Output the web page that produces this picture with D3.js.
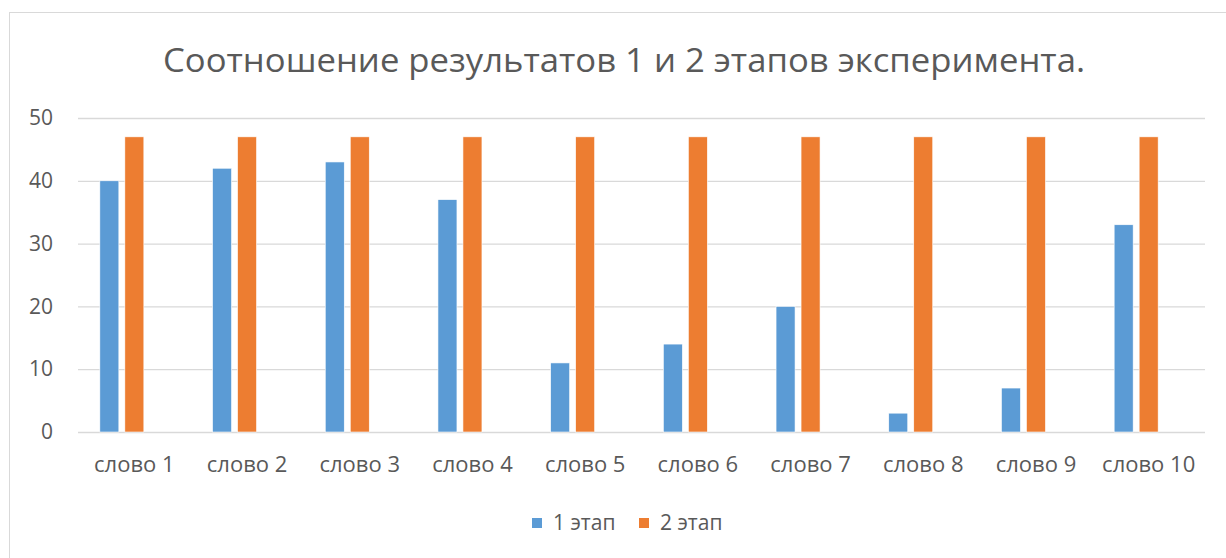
<!DOCTYPE html>
<html>
<head>
<meta charset="utf-8">
<script src="https://cdn.jsdelivr.net/npm/d3@7"></script>
<style>
  body { margin: 0; background: #fff; }
  svg { display: block; }
  svg text { font-family: "Open Sans", sans-serif; }
</style>
</head>
<body>
<div id="chart"></div>
<script>
// data
const categories = ["слово 1", "слово 2", "слово 3", "слово 4", "слово 5",
                    "слово 6", "слово 7", "слово 8", "слово 9", "слово 10"];
const seriesNames = ["1 этап", "2 этап"];
const stage1 = [40, 42, 43, 37, 11, 14, 20, 3, 7, 33];
const stage2 = [47, 47, 47, 47, 47, 47, 47, 47, 47, 47];
const yTicks = [0, 10, 20, 30, 40, 50];
const colors = ["#5B9BD5", "#ED7D31"];
const title = "Соотношение результатов 1 и 2 этапов эксперимента.";

const W = 1226, H = 558;
const margin = { top: 118, right: 21, bottom: 126, left: 78 };
const width = W - margin.left - margin.right,
  height = H - margin.top - margin.bottom;

const svg = d3.select("#chart").append("svg")
  .attr("width", W)
  .attr("height", H);

// chart frame
svg.append("rect")
  .attr("x", 9.5).attr("y", 12.5)
  .attr("width", W + 20).attr("height", H + 20)
  .attr("fill", "#fff")
  .attr("stroke", "#d9d9d9");

svg.append("text")
  .attr("x", 624).attr("y", 72)
  .attr("text-anchor", "middle")
  .attr("fill", "#595959")
  .attr("textLength", 922)
  .attr("lengthAdjust", "spacingAndGlyphs")
  .style("font-size", "32px")
  .text(title);

const g = svg.append("g")
  .attr("transform", "translate(" + margin.left + "," + margin.top + ")");

const x0 = d3.scaleBand()
  .domain(categories)
  .range([0, width])
  .padding(0);

// Excel left room for a third (empty) series slot
const x1 = d3.scaleBand()
  .domain(seriesNames.concat(["_"]))
  .range([0, x0.bandwidth()])
  .paddingInner(0.24)
  .paddingOuter(0.874);

const y = d3.scaleLinear()
  .domain([0, 50])
  .range([height, 0]);

// gridlines + y labels
const yAxis = g.append("g")
  .call(d3.axisLeft(y).tickValues(yTicks).tickSize(-width).tickPadding(25));
yAxis.attr("font-family", null).attr("font-size", null);
yAxis.select(".domain").remove();
yAxis.selectAll(".tick line").attr("stroke", "#d9d9d9").attr("stroke-width", 1.3);
yAxis.selectAll(".tick text")
  .attr("fill", "#595959")
  .style("font-size", "21px");

const rows = categories.map((c, i) => ({ cat: c, values: [stage1[i], stage2[i]] }));

g.selectAll(".grp")
  .data(rows)
  .enter().append("g")
  .attr("class", "grp")
  .attr("transform", d => "translate(" + x0(d.cat) + ",0)")
  .selectAll("rect")
  .data(d => d.values.map((v, k) => ({ key: seriesNames[k], value: v, k: k })))
  .enter().append("rect")
  .attr("x", d => x1(d.key))
  .attr("width", x1.bandwidth())
  .attr("y", d => y(d.value))
  .attr("height", d => height - y(d.value))
  .attr("fill", d => colors[d.k])
  .attr("stroke", "#fff")
  .attr("stroke-width", 0.6);

// category labels
const xAxis = g.append("g")
  .attr("transform", "translate(0," + height + ")")
  .call(d3.axisBottom(x0).tickSize(0).tickPadding(24));
xAxis.attr("font-family", null).attr("font-size", null);
xAxis.select(".domain").remove();
xAxis.selectAll(".tick text")
  .attr("fill", "#595959")
  .style("font-size", "22px");

// legend
const legend = svg.append("g").attr("transform", "translate(532,518)");
const items = legend.selectAll(".item")
  .data(seriesNames)
  .enter().append("g")
  .attr("class", "item")
  .attr("transform", (d, i) => "translate(" + (i * 107) + ",0)");
items.append("rect")
  .attr("width", 10).attr("height", 10)
  .attr("fill", (d, i) => colors[i]);
items.append("text")
  .attr("x", 21).attr("y", 12)
  .attr("fill", "#595959")
  .style("font-size", "21px")
  .text(d => d);
</script>
</body>
</html>
